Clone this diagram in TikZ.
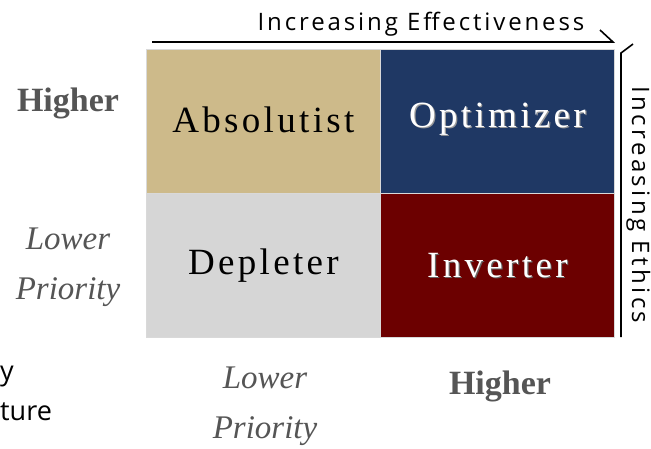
\documentclass[tikz,border=0pt]{standalone}
\usepackage{fontspec}
\setmainfont{Liberation Serif}
\newfontfamily\cellfont[LetterSpace=9]{Liberation Serif}
\newfontfamily\axisfont[LetterSpace=12]{Open Sans}
\newfontfamily\axisfontv[LetterSpace=14]{Open Sans}
\newfontfamily\plainsans{Open Sans}
\definecolor{tanc}{HTML}{CDBA8A}
\definecolor{navyc}{HTML}{1F3864}
\definecolor{grayc}{HTML}{D6D6D6}
\definecolor{redc}{HTML}{6C0000}
\definecolor{labelc}{HTML}{555555}
\begin{document}
\begin{tikzpicture}[x=1pt,y=-1pt,
  cell/.style={draw=white!85!black, line width=0.8pt, minimum width=234pt, minimum height=144pt, inner sep=0pt, anchor=north west},
  celltext/.style={font=\cellfont\fontsize{37}{42}\selectfont},
  hilab/.style={font=\bfseries\fontsize{34}{38}\selectfont, text=labelc},
  lolab/.style={font=\itshape\fontsize{33}{50}\selectfont, text=labelc, align=center},
  axis/.style={line width=1.6pt, black},
  edgetext/.style={font=\plainsans\fontsize{27}{30}\selectfont, anchor=base west, inner sep=0pt},
]
\useasboundingbox (0,0) rectangle (651,448);
\fill[white] (0,0) rectangle (651,448);
% quadrants
\node[cell, fill=tanc]  (abs) at (146,49)  {};
\node[cell, fill=navyc] (opt) at (380,49)  {};
\node[cell, fill=grayc] (dep) at (146,193) {};
\node[cell, fill=redc]  (inv) at (380,193) {};
\node[celltext, text=black, yshift=2pt] at (abs.center) {Absolutist};
\node[celltext, text=black!40, xshift=1.2pt, yshift=0.8pt] at (opt.center) {Optimizer};
\node[celltext, text=white, yshift=2pt] at (opt.center) {Optimizer};
\node[celltext, text=black] at (dep.center) {Depleter};
\node[celltext, text=black!60, xshift=1.2pt, yshift=-1.2pt] at (inv.center) {Inverter};
\node[celltext, text=white] at (inv.center) {Inverter};
% top axis
\coordinate (ta) at (152,42);
\coordinate (tb) at (613,42);
\coordinate (tc) at (600,30);
\draw[axis] (ta) -- (tb) -- (tc);
\node[font=\axisfont\fontsize{24}{28}\selectfont, anchor=base] (eff) at (421,30) {Increasing Effectiveness};
% right axis
\coordinate (ra) at (621,337);
\coordinate (rb) at (621,53);
\coordinate (rc) at (633,44);
\draw[axis] (ra) -- (rb) -- (rc);
\node[font=\axisfontv\fontsize{24}{28}\selectfont, rotate=-90, anchor=base] (eth) at (632,205) {Increasing Ethics};
% left labels
\node[hilab] (lh) at (68,103) {Higher};
\node[lolab] (ll) at (68,267) {Lower\\Priority};
% bottom labels
\node[lolab] (bl) at (265,406) {Lower\\Priority};
\node[hilab] (bh) at (500,386) {Higher};
% text at left edge
\node[edgetext] (t1) at (0,380) {y};
\node[edgetext] (t2) at (0,420) {ture};
\end{tikzpicture}
\end{document}
